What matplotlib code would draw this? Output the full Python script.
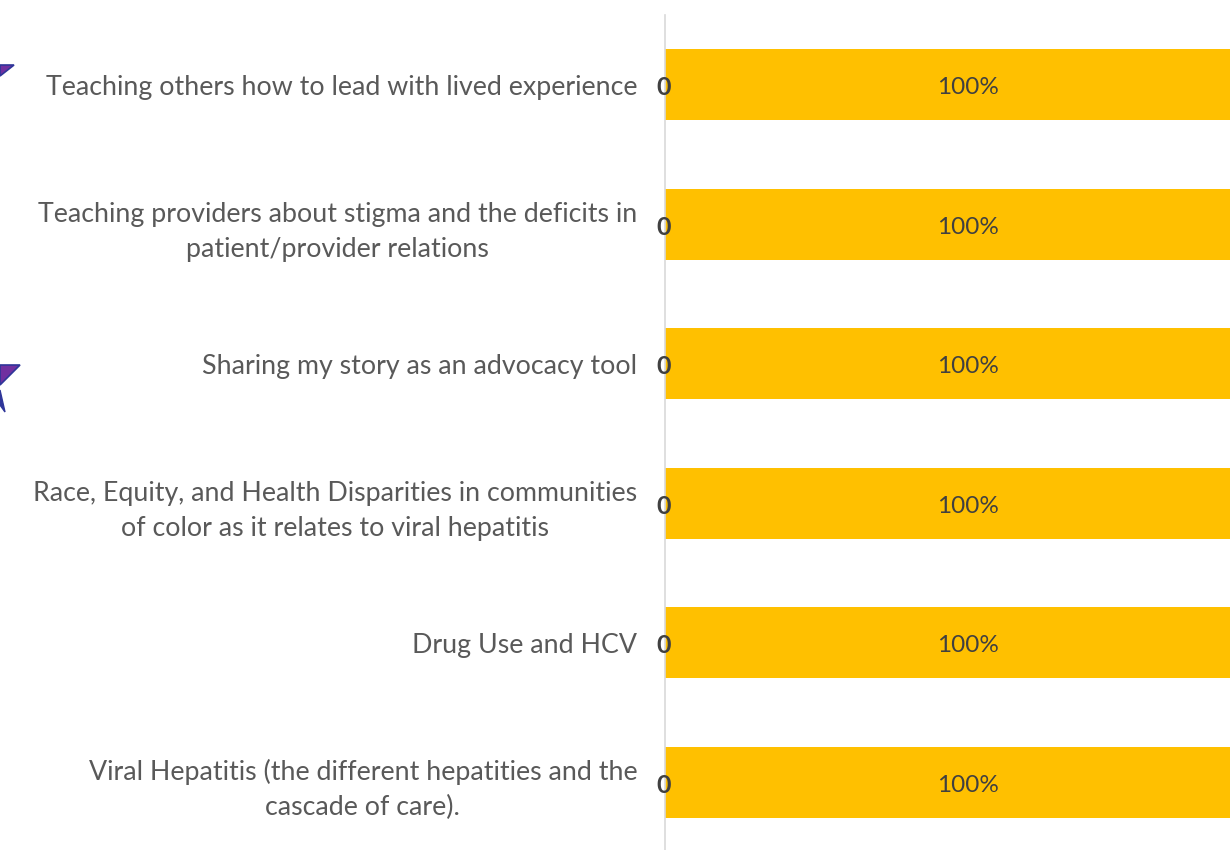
import matplotlib.pyplot as plt
from matplotlib.patches import Polygon

categories = [
    "Teaching others how to lead with lived experience",
    "Teaching providers about stigma and the deficits in\npatient/provider relations",
    "Sharing my story as an advocacy tool",
    "Race, Equity, and Health Disparities in communities\nof color as it relates to viral hepatitis",
    "Drug Use and HCV",
    "Viral Hepatitis (the different hepatities and the\ncascade of care).",
]
zero_vals = [0, 0, 0, 0, 0, 0]
pct_vals = [100, 100, 100, 100, 100, 100]

plt.rcParams['font.family'] = ['Lato', 'DejaVu Sans']

W, H = 1230, 850
fig = plt.figure(figsize=(W / 100, H / 100), dpi=100)
# axes runs past the right edge, the bar is cut off like in the source
ax = fig.add_axes([665 / W, -2 / H, 1 - 665 / W, 837 / H])

y = list(range(len(categories)))
ax.barh(y, zero_vals, height=0.51, color='#4472C4')
ax.barh(y, pct_vals, left=zero_vals, height=0.51, color='#FFC000')

for yi, z, p in zip(y, zero_vals, pct_vals):
    ax.text(z - 0.3, yi + 0.02, str(z), ha='center', va='center', fontsize=18,
            fontweight='bold', color='#404040')
    ax.text(z + p / 2, yi + 0.02, f"{p}%", ha='center', va='center', fontsize=17.5,
            color='#404040')

ax.set_xlim(0, 100 * (1230 - 665) / (1271 - 665))
ax.set_ylim(len(categories) - 0.5, -0.5)
ax.set_yticks(y)
ax.set_yticklabels(categories, fontsize=19.3, color='#595959',
                   multialignment='center', linespacing=1.5)
ax.tick_params(axis='y', length=0, pad=20)
ax.set_xticks([])
for s in ['top', 'right', 'bottom']:
    ax.spines[s].set_visible(False)
ax.spines['left'].set_color('#D9D9D9')
ax.spines['left'].set_linewidth(1.2)

# partial star decorations at left edge
def px(pts):
    return [(x / W, 1 - yy / H) for x, yy in pts]

fig.patches.append(Polygon(px([(0, 65), (14, 65), (0, 76)]), closed=True,
                           facecolor='#7030A0', edgecolor='#2F3699', lw=1.2,
                           transform=fig.transFigure))
fig.patches.append(Polygon(px([(0, 365), (20, 365), (0, 385)]), closed=True,
                           facecolor='#7030A0', edgecolor='#2F3699', lw=1.2,
                           transform=fig.transFigure))
fig.patches.append(Polygon(px([(0, 390), (5, 412), (0, 405)]), closed=True,
                           facecolor='#2F3699', edgecolor='#2F3699', lw=1.0,
                           transform=fig.transFigure))

fig.savefig('out.png', dpi=100)
